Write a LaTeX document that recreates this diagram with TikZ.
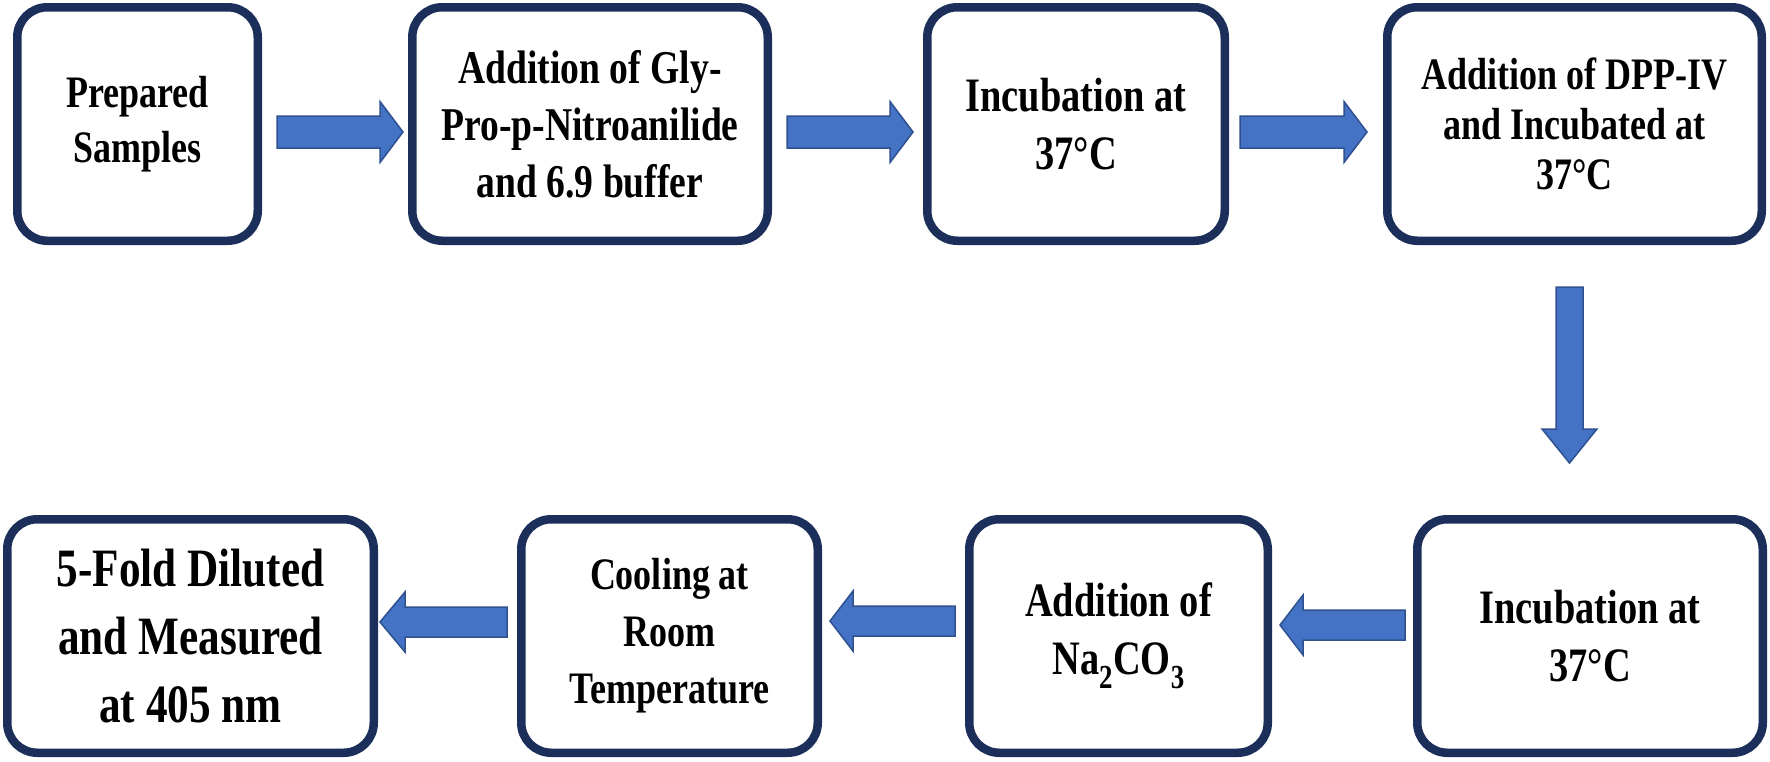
\documentclass[tikz,border=0pt]{standalone}
\usepackage{fontspec}
\setmainfont{Liberation Serif}[FakeStretch=0.8]
\usetikzlibrary{calc}
\definecolor{boxnavy}{HTML}{1C2F5A}
\definecolor{arrowblue}{HTML}{4472C4}
\definecolor{arrowedge}{HTML}{2F528F}
\tikzset{
  stepbox/.style={draw=boxnavy, line width=8.5pt, rounded corners=30pt, fill=white,
    align=center, inner sep=0pt, minimum height=233.5pt},
  blockarrow/.style={fill=arrowblue, draw=arrowedge, line width=1.5pt, line join=miter},
}
% #1 start coordinate, #2 tip coordinate, #3 shaft half width, #4 head half width, #5 head length
\newcommand{\blockarrow}[5]{%
  \coordinate (#1-hb) at ($(#2)!#5!(#1)$);
  \draw[blockarrow] ($(#1)!#3!90:(#2)$) -- ($(#1-hb)!#3!90:(#2)$) -- ($(#1-hb)!#4!90:(#2)$)
    -- (#2) -- ($(#1-hb)!#4!-90:(#2)$) -- ($(#1-hb)!#3!-90:(#2)$) -- ($(#1)!#3!-90:(#2)$) -- cycle;}
\begin{document}
\begin{tikzpicture}[x=1pt,y=-1pt]
\useasboundingbox[fill=white] (0,0) rectangle (1770,761);
% top row
\node[stepbox, minimum width=240.5pt, font=\bfseries\fontsize{45}{55}\selectfont] (b1) at (137.5,124) {Prepared\\Samples};
\node[stepbox, minimum width=355.5pt, font=\bfseries\fontsize{47}{57}\selectfont] (b2) at (590,124) {Addition of Gly-\\Pro-p-Nitroanilide\\and 6.9 buffer};
\node[stepbox, minimum width=297.5pt, font=\bfseries\fontsize{48}{58}\selectfont] (b3) at (1076,124) {Incubation at\\37°C};
\node[stepbox, minimum width=374.5pt, font=\bfseries\fontsize{45}{50}\selectfont] (b4) at (1574.5,124) {Addition of DPP-IV\\and Incubated at\\37°C};
% bottom row
\node[stepbox, minimum width=345.5pt, font=\bfseries\fontsize{48}{58}\selectfont] (b5) at (1590,636) {Incubation at\\37°C};
\node[stepbox, minimum width=298.5pt, font=\bfseries\fontsize{48}{58}\selectfont] (b6) at (1118.5,636) {Addition of\\Na\textsubscript{2}CO\textsubscript{3}};
\node[stepbox, minimum width=296.5pt, font=\bfseries\fontsize{45}{57}\selectfont] (b7) at (669.5,636) {Cooling at\\Room\\Temperature};
\node[stepbox, minimum width=366.5pt, font=\bfseries\fontsize{54}{68}\selectfont] (b8) at (190.5,636) {5-Fold Diluted\\and Measured\\at 405 nm};
% arrows
\coordinate (a1s) at ($(b1.east)+(15,8)$);  \coordinate (a1t) at ($(b2.west)+(-5,8)$);
\coordinate (a2s) at ($(b2.east)+(15,8)$);  \coordinate (a2t) at ($(b3.west)+(-10,8)$);
\coordinate (a3s) at ($(b3.east)+(11,8)$);  \coordinate (a3t) at ($(b4.west)+(-16,8)$);
\coordinate (a4s) at ($(b4.south)+(-5,42)$); \coordinate (a4t) at ($(b5.north)+(-20.5,-52)$);
\coordinate (a5s) at ($(b5.west)+(-8,-11)$); \coordinate (a5t) at ($(b6.east)+(8,-11)$);
\coordinate (a6s) at ($(b6.west)+(-10,-15)$); \coordinate (a6t) at ($(b7.east)+(8,-15)$);
\coordinate (a7s) at ($(b7.west)+(-10,-14)$); \coordinate (a7t) at ($(b8.east)+(2,-14)$);
\blockarrow{a1s}{a1t}{16pt}{30.5pt}{23pt}
\blockarrow{a2s}{a2t}{16pt}{30.5pt}{23pt}
\blockarrow{a3s}{a3t}{16pt}{30.5pt}{23pt}
\blockarrow{a4s}{a4t}{13.5pt}{27.5pt}{34pt}
\blockarrow{a5s}{a5t}{15pt}{30pt}{23pt}
\blockarrow{a6s}{a6t}{15pt}{30pt}{23pt}
\blockarrow{a7s}{a7t}{15pt}{30pt}{25pt}
\end{tikzpicture}
\end{document}
